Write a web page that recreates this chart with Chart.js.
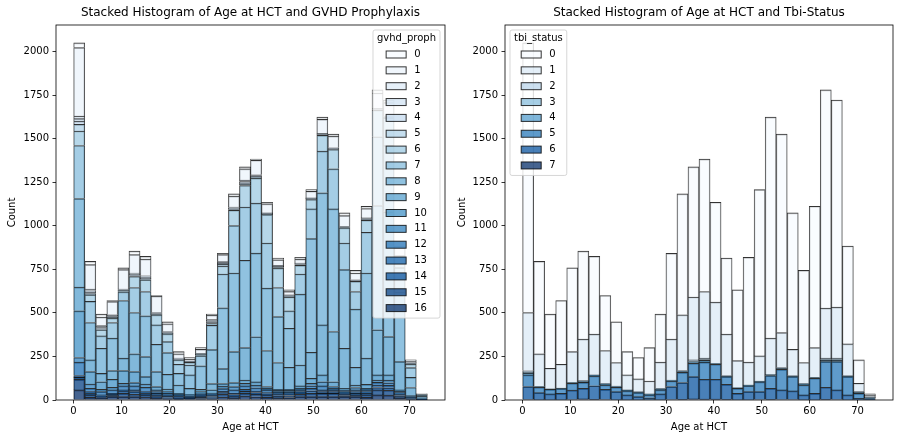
<!DOCTYPE html>
<html>
<head>
<meta charset="utf-8">
<script src="https://cdn.jsdelivr.net/npm/chart.js@4.4.1/dist/chart.umd.min.js"></script>
<style>
  html, body { margin: 0; padding: 0; background: #fff; }
  .wrap { position: relative; width: 900px; height: 440px; }
  .panel { position: absolute; top: 0; width: 450px; height: 440px; }
  #leftPanel { left: 0; }
  #rightPanel { left: 450px; }
</style>
</head>
<body>
<div class="wrap">
  <div class="panel" id="leftPanel"><canvas id="gvhdChart" width="450" height="440"></canvas></div>
  <div class="panel" id="rightPanel"><canvas id="tbiChart" width="450" height="440"></canvas></div>
</div>
<script>
// Histogram bins (age at HCT), shared by both panels
const binEdges = [0.04, 2.34, 4.65, 6.95, 9.25, 11.56, 13.86, 16.16, 18.46, 20.77, 23.07,
  25.37, 27.68, 29.98, 32.28, 34.59, 36.89, 39.19, 41.49, 43.80, 46.10,
  48.40, 50.71, 53.01, 55.31, 57.62, 59.92, 62.22, 64.52, 66.83, 69.13,
  71.43, 73.74];
const xTicks = [0, 10, 20, 30, 40, 50, 60, 70];
const yTicks = [0, 250, 500, 750, 1000, 1250, 1500, 1750, 2000];

// gvhd_proph counts per bin (level 0 on top of the stack)
const gvhdLevels = ['0','1','2','3','4','5','6','7','8','9','10','11','12','13','14','15','16'];
const gvhd0 = [27,19,17,6,11,21,15,4,12,13,10,10,6,8,13,11,7,9,10,10,10,10,13,11,16,15,13,18,15,10,6,2];
const gvhd1 = [393,140,49,76,111,105,96,94,44,25,10,23,25,40,62,65,83,52,32,19,23,38,81,67,61,39,54,88,77,44,10,3];
const gvhd2 = [15,10,6,5,3,6,7,4,4,3,2,2,8,4,5,8,5,3,6,5,5,3,4,3,3,3,4,4,4,3,2,1];
const gvhd3 = [14,7,5,5,3,5,6,3,3,3,2,2,5,6,6,8,4,3,4,3,3,3,3,3,2,2,3,3,2,2,2,0];
const gvhd4 = [19,9,7,5,2,5,5,3,3,2,2,2,5,5,4,7,5,2,3,3,3,2,2,2,2,2,3,2,2,2,2,1];
const gvhd5 = [38,7,6,4,2,4,5,3,3,2,2,3,5,10,4,8,5,2,3,2,2,1,2,2,2,2,3,2,2,1,2,0];
const gvhd6 = [83,38,35,25,6,63,67,58,45,25,15,5,10,46,88,123,144,163,111,79,50,54,90,111,87,58,69,152,160,62,20,2];
const gvhd7 = [305,121,71,90,50,144,140,111,63,52,57,58,140,194,272,306,287,259,167,100,115,171,240,230,153,101,234,395,380,140,56,5];
const gvhd8 = [508,215,144,186,331,237,234,157,124,67,77,135,195,349,451,501,480,358,264,224,407,652,758,704,451,334,489,713,716,400,58,10];
const gvhd9 = [136,67,48,50,71,102,115,86,85,48,34,13,35,86,178,186,259,207,154,127,120,149,287,288,230,102,150,259,220,162,47,5];
const gvhd10 = [268,71,44,46,73,63,42,19,15,6,5,8,19,14,23,19,19,10,6,6,14,29,39,28,10,14,23,29,30,8,6,1];
const gvhd11 = [27,25,13,15,15,19,19,10,9,5,5,6,5,15,19,15,15,9,7,7,9,14,24,9,9,14,9,14,15,8,4,1];
const gvhd12 = [77,19,19,20,23,23,25,10,10,4,4,5,8,15,20,20,19,16,6,6,10,15,23,10,7,10,10,15,15,8,4,1];
const gvhd13 = [10,8,5,6,6,10,8,9,8,4,4,7,7,8,7,11,8,6,7,7,7,14,10,10,8,10,9,14,14,8,3,1];
const gvhd14 = [12,11,6,6,14,15,11,10,8,9,5,7,7,9,8,12,9,7,11,9,8,15,10,10,7,9,10,14,14,7,2,1];
const gvhd15 = [60,14,5,7,19,14,12,8,6,5,4,7,6,16,11,15,16,14,12,12,14,19,19,19,7,10,14,29,28,9,3,1];
const gvhd16 = [58,15,13,19,19,19,17,11,7,5,6,8,7,17,12,23,18,15,12,14,19,19,19,19,19,19,15,29,28,10,3,1];

// tbi_status counts per bin
const tbiLevels = ['0','1','2','3','4','5','6','7'];
const tbi0 = [1548,531,311,366,481,506,446,316,234,134,123,192,276,493,694,747,760,573,437,407,602,955,1269,1139,783,529,811,1253,1189,562,134,11];
const tbi1 = [334,188,118,137,177,238,234,188,135,86,73,74,150,234,320,361,383,351,238,155,131,144,207,201,151,119,171,287,293,182,48,10];
const tbi2 = [9,1,1,1,2,4,2,4,3,2,2,2,3,2,4,7,8,2,2,1,1,2,3,4,2,4,2,8,8,2,4,3];
const tbi3 = [5,1,1,1,1,2,1,2,1,1,1,1,2,1,2,4,5,1,1,1,1,1,2,2,1,2,1,4,4,1,2,1];
const tbi4 = [10,2,1,1,2,4,3,4,3,3,3,3,4,3,4,8,10,3,3,2,2,2,3,4,3,4,2,8,8,3,4,3];
const tbi5 = [67,31,26,27,39,34,56,25,25,23,23,16,23,32,59,77,98,86,44,29,34,56,73,118,82,57,87,147,162,105,28,3];
const tbi6 = [74,40,34,36,54,61,78,58,46,27,18,12,33,74,96,128,114,114,86,36,46,45,63,55,49,27,36,69,55,27,9,4];
const tbi7 = [3,2,1,2,3,6,4,3,2,2,1,1,2,3,4,6,5,5,4,2,2,3,4,3,3,2,2,4,3,2,1,1];

// "Blues" colours from white to navy, alpha .75
const blues17 = [
  'rgba(247,251,255,0.75)', 'rgba(235,243,251,0.75)', 'rgba(222,235,247,0.75)', 'rgba(210,227,243,0.75)',
  'rgba(198,219,239,0.75)', 'rgba(178,211,232,0.75)', 'rgba(158,202,225,0.75)', 'rgba(133,188,220,0.75)',
  'rgba(107,174,214,0.75)', 'rgba(87,160,206,0.75)', 'rgba(66,146,198,0.75)', 'rgba(50,130,190,0.75)',
  'rgba(33,113,181,0.75)', 'rgba(21,97,169,0.75)', 'rgba(8,81,156,0.75)', 'rgba(8,65,132,0.75)',
  'rgba(8,48,107,0.75)'
];
const blues8 = [
  'rgba(247,251,255,0.75)', 'rgba(219,233,246,0.75)', 'rgba(187,214,235,0.75)', 'rgba(136,190,220,0.75)',
  'rgba(84,158,205,0.75)', 'rgba(42,122,186,0.75)', 'rgba(12,86,160,0.75)', 'rgba(8,48,107,0.75)'
];

const FONT = "'DejaVu Sans', sans-serif";
Chart.defaults.font.family = FONT;
Chart.defaults.color = '#000';

// frame, title and the matplotlib-style legend box
const panelDecor = {
  id: 'panelDecor',
  afterDraw(chart, args, opts) {
    const { ctx, chartArea: a } = chart;
    ctx.save();
    ctx.strokeStyle = '#000';
    ctx.lineWidth = 0.8;
    ctx.strokeRect(a.left, a.top, a.right - a.left, a.bottom - a.top);

    ctx.fillStyle = '#000';
    ctx.font = '12px ' + FONT;
    ctx.textAlign = 'center';
    ctx.textBaseline = 'middle';
    ctx.fillText(opts.title, (a.left + a.right) / 2, 13);

    // legend: level 0 first
    const items = chart.data.datasets.slice().reverse();
    ctx.font = '10px ' + FONT;
    const pad = 4, handleW = 20, handleH = 7, gap = 8, rowH = 15.85;
    const titleW = ctx.measureText(opts.legendTitle).width;
    const labelW = Math.max(...items.map(d => ctx.measureText(d.label).width));
    const blockW = handleW + gap + labelW;
    const innerW = Math.max(titleW, blockW);
    const boxW = innerW + 2 * pad;
    const boxH = 24.5 + (items.length - 1) * rowH + 10;
    const x0 = opts.legendSide === 'right' ? a.right - 5 - boxW : a.left + 5;
    const y0 = a.top + 5;

    ctx.beginPath();
    ctx.roundRect(x0, y0, boxW, boxH, 2);
    ctx.fillStyle = 'rgba(255,255,255,0.8)';
    ctx.fill();
    ctx.strokeStyle = 'rgba(204,204,204,0.8)';
    ctx.lineWidth = 1;
    ctx.stroke();

    ctx.fillStyle = '#000';
    ctx.textAlign = 'center';
    ctx.fillText(opts.legendTitle, x0 + boxW / 2, y0 + 8.5);

    const bx = x0 + pad + (innerW - blockW) / 2;
    ctx.textAlign = 'left';
    items.forEach((d, i) => {
      const cy = y0 + 24.5 + i * rowH;
      ctx.fillStyle = d.backgroundColor;
      ctx.fillRect(bx, cy - handleH / 2, handleW, handleH);
      ctx.strokeStyle = 'rgba(0,0,0,0.8)';
      ctx.lineWidth = 1;
      ctx.strokeRect(bx, cy - handleH / 2, handleW, handleH);
      ctx.fillStyle = '#000';
      ctx.fillText(d.label, bx + handleW + gap, cy);
    });
    ctx.restore();
  }
};

function makeHist(canvasId, levels, series, palette, axisWidth, padRight, title, legendTitle, legendSide) {
  const centers = binEdges.slice(0, -1).map((e, i) => (e + binEdges[i + 1]) / 2);
  // stack bottom-up: highest level first
  const datasets = levels.map((lv, k) => ({
    label: lv,
    data: series[k].map((v, i) => ({ x: centers[i], y: v })),
    backgroundColor: palette[k],
    borderColor: 'rgba(0,0,0,0.8)',
    borderWidth: { top: 1, left: 0.8, right: 0.8, bottom: 0 },
    barPercentage: 1,
    categoryPercentage: 1
  })).reverse();

  const tickFont = { family: FONT, size: 10 };
  const tickGrid = { display: true, drawOnChartArea: false, drawTicks: true, tickLength: 3.5, color: '#000', lineWidth: 0.8, offset: false };

  return new Chart(document.getElementById(canvasId), {
    type: 'bar',
    data: { datasets },
    plugins: [panelDecor],
    options: {
      responsive: false,
      animation: false,
      events: [],
      layout: { padding: { top: 25, right: padRight, bottom: 0, left: 0 } },
      plugins: {
        legend: { display: false },
        tooltip: { enabled: false },
        panelDecor: { title, legendTitle, legendSide }
      },
      scales: {
        x: {
          type: 'linear',
          min: -3.65,
          max: 77.42,
          stacked: true,
          offset: false,
          grid: tickGrid,
          border: { display: false },
          afterBuildTicks: s => { s.ticks = xTicks.map(v => ({ value: v })); },
          afterFit: s => { s.height = 40; },
          ticks: { autoSkip: false, maxRotation: 0, padding: 2, font: tickFont, color: '#000', callback: v => String(v) },
          title: { display: true, text: 'Age at HCT', color: '#000', font: tickFont, padding: { top: 0, bottom: 7 } }
        },
        y: {
          min: 0,
          max: 2152.5,
          stacked: true,
          grid: tickGrid,
          border: { display: false },
          afterBuildTicks: s => { s.ticks = yTicks.map(v => ({ value: v })); },
          afterFit: s => { s.width = axisWidth; },
          ticks: { padding: 3.5, font: tickFont, color: '#000', callback: v => String(v) },
          title: { display: true, text: 'Count', color: '#000', font: tickFont, padding: { top: 6, bottom: 0 } }
        }
      }
    }
  });
}

makeHist('gvhdChart', gvhdLevels,
  [gvhd0, gvhd1, gvhd2, gvhd3, gvhd4, gvhd5, gvhd6, gvhd7, gvhd8, gvhd9, gvhd10, gvhd11, gvhd12, gvhd13, gvhd14, gvhd15, gvhd16],
  blues17, 56, 5, 'Stacked Histogram of Age at HCT and GVHD Prophylaxis', 'gvhd_proph', 'right');

makeHist('tbiChart', tbiLevels,
  [tbi0, tbi1, tbi2, tbi3, tbi4, tbi5, tbi6, tbi7],
  blues8, 55, 7, 'Stacked Histogram of Age at HCT and Tbi-Status', 'tbi_status', 'left');
</script>
</body>
</html>
